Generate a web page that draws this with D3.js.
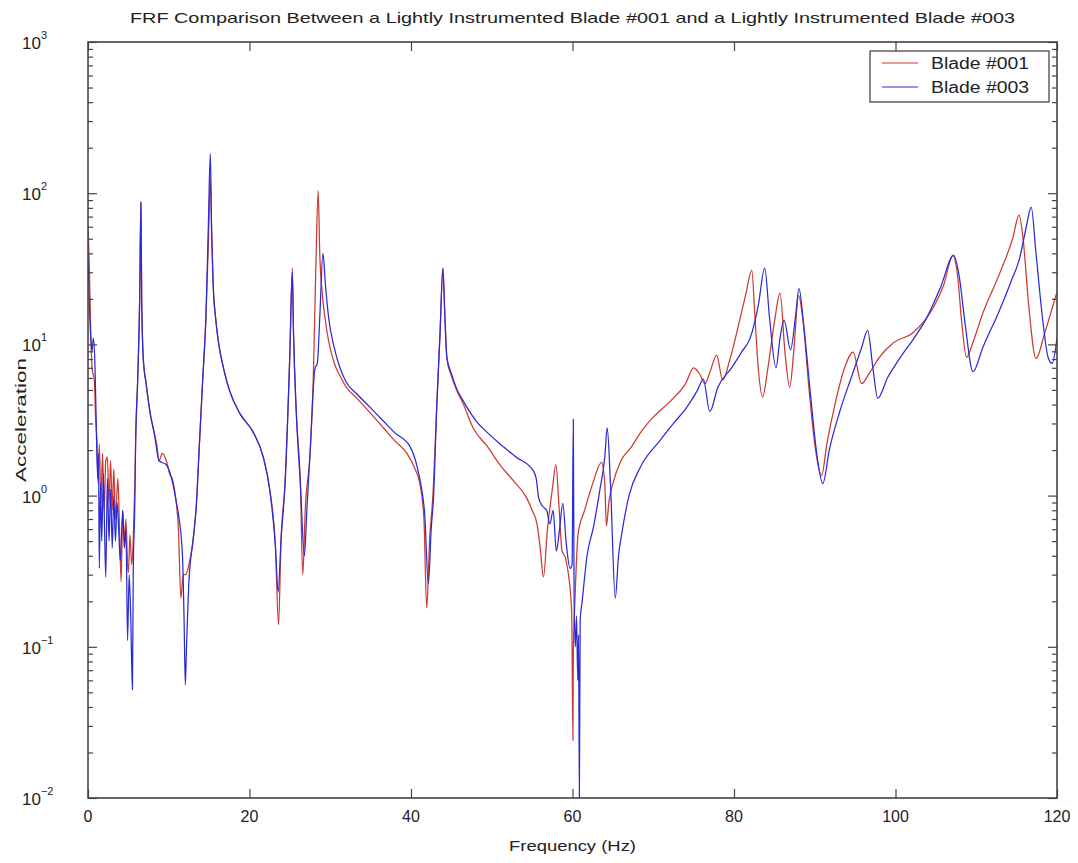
<!DOCTYPE html>
<html><head><meta charset="utf-8">
<script src="https://cdn.jsdelivr.net/npm/d3@7"></script>
<style>body{margin:0;background:#fff}svg{display:block}text{font-family:"Liberation Sans",Arial,sans-serif;fill:#222}</style>
</head><body>
<svg id="c" width="1078" height="863"></svg>
<script>
const title = "FRF Comparison Between a Lightly Instrumented Blade #001 and a Lightly Instrumented Blade #003";
const xLabel = "Frequency (Hz)";
const yLabel = "Acceleration";
const seriesNames = ["Blade #001", "Blade #003"];
const xTicks = [0, 20, 40, 60, 80, 100, 120];
const yDecades = [-2, -1, 0, 1, 2, 3];

const freq001 = [0,0.15,0.3,0.5,0.78,0.95,1.1,1.25,1.4,1.6,1.8,2.0,2.2,2.4,2.6,2.8,3.0,3.2,3.4,3.7,3.9,4.1,4.3,4.5,4.7,4.9,5.0,5.2,5.4,5.6,5.8,5.9,6.15,6.4,6.55,6.65,6.85,7.2,7.7,8.2,8.5,8.8,9.2,9.7,10.1,10.5,10.9,11.2,11.5,11.8,12.1,12.5,13.0,13.4,13.8,14.2,14.6,14.9,15.15,15.3,15.5,15.8,16.2,16.8,17.5,18.8,20.5,21.7,22.5,23.2,23.6,23.9,24.4,25.0,25.3,25.45,25.8,26.3,26.6,26.9,27.5,27.9,28.2,28.5,28.7,29.0,29.35,29.8,30.5,31.2,32.0,33.3,35.0,36.6,38.0,39.5,40.5,41.1,41.6,41.95,42.3,42.7,43.2,43.6,43.95,44.2,44.45,45.0,45.65,46.5,47.7,49.5,51.0,52.7,54.3,55.0,55.6,56.0,56.4,56.9,57.5,57.95,58.3,58.7,59.1,59.5,59.9,60.05,60.1,60.3,60.7,61.5,62.5,63.6,64.0,64.2,64.5,65.0,66.0,67.3,68.4,70.0,72.1,74.0,75.0,75.8,76.4,77.0,77.85,78.6,79.5,80.5,81.5,82.2,82.6,83.0,83.55,84.2,85.0,85.7,86.3,86.9,87.4,88.0,88.5,89.3,90.0,90.85,91.5,92.5,93.7,94.75,95.8,96.8,98.0,99.7,102.2,104.7,106.0,107.1,107.7,108.2,108.8,109.5,110.8,112.9,114.5,115.3,115.8,116.5,117.4,118.5,119.95];
const acc001 = [60,35,15,7,5.8,3.2,2.3,1.2,2.2,0.9,1.9,0.8,1.7,1.8,0.9,1.7,0.8,1.5,0.7,1.3,0.6,0.27,0.8,0.5,0.7,0.35,0.31,0.55,0.35,0.5,1.2,2.3,5.8,20,85,20,8,5.5,3.5,2.6,2.2,1.7,1.9,1.7,1.4,1.26,0.93,0.6,0.21,0.3,0.3,0.35,0.5,0.85,2.2,5.8,15,45,125,60,25,15,10,6.9,5,3.5,2.6,1.8,1.1,0.47,0.14,0.5,1.2,8.8,32,12,3.5,1.2,0.3,0.8,1.9,6,30,104,40,22,15,10.5,7.5,6.2,5.2,4.4,3.5,2.8,2.3,1.9,1.5,1.2,0.7,0.18,0.5,0.98,4,12,32,15,8,6.2,5,4,2.8,2.1,1.6,1.25,0.97,0.8,0.65,0.45,0.29,0.6,1.1,1.6,0.9,0.43,0.39,0.3,0.17,0.024,0.09,0.2,0.56,0.8,1.2,1.66,1.2,0.63,0.9,1.2,1.7,2.1,2.6,3.3,4.2,5.5,7,6.3,5.5,6.5,8.5,5.8,8,13,22,31,15,7,4.5,7,14,21.8,9,5.2,9,21,15,5,2.2,1.36,2.2,4,7,8.9,5.5,6.5,8.2,10.2,12,17.6,25,38.8,28,14,8.2,10,16,29.5,50,71.5,50,18,8.07,12,21.8];

const freq003 = [0,0.15,0.3,0.5,0.66,0.87,1.0,1.2,1.3,1.4,1.55,1.7,1.9,2.05,2.2,2.4,2.6,2.8,3.0,3.2,3.4,3.6,3.8,4.0,4.3,4.5,4.7,4.9,5.1,5.3,5.5,5.6,5.8,5.9,6.15,6.4,6.55,6.65,6.85,7.2,7.7,8.2,8.8,9.7,10.5,10.9,11.3,11.7,11.9,12.05,12.2,12.5,13.0,13.4,13.8,14.2,14.6,14.9,15.15,15.3,15.5,15.8,16.2,16.8,17.5,18.8,20.5,21.7,22.5,23.2,23.55,23.9,24.4,25.0,25.3,25.45,25.8,26.3,26.8,27.1,27.5,28.1,28.4,28.7,29.1,29.4,29.8,30.5,31.2,32.0,33.3,35.0,36.6,38.0,39.9,40.7,41.2,41.7,42.15,42.5,42.8,43.2,43.6,43.95,44.2,44.45,45.0,45.65,46.5,48.1,49.5,51.0,53.0,55.1,55.5,55.8,56.3,56.8,57.2,57.6,58.0,58.4,58.8,59.2,59.7,59.95,60.1,60.2,60.35,60.5,60.65,60.75,60.85,60.95,61.2,61.8,62.6,63.4,64.0,64.3,64.7,65.3,65.7,66.1,67.0,68.4,70.8,72.5,74.1,75.5,76.2,77.0,78.0,79.7,81.0,82.0,83.0,83.8,84.4,85.2,85.7,86.2,87.0,87.6,88.05,88.6,89.5,90.3,91.0,91.8,93.1,94.5,95.8,96.55,97.2,97.8,99.0,100.6,102.3,103.9,105.6,107.2,107.9,108.6,109.6,110.8,112.9,114.3,115.4,116.2,116.8,117.4,118.2,118.9,119.4,120];
const acc003 = [40,20,12,9,11,7,3.4,1.3,1.9,0.33,1.2,0.5,1.4,0.6,0.29,1.3,0.5,1.1,0.45,1.0,0.5,0.9,0.6,0.37,0.8,0.45,0.6,0.11,0.3,0.15,0.052,0.3,0.9,2.3,5.8,20,88,20,8,5.5,3.5,2.6,1.7,1.6,1.2,0.93,0.69,0.4,0.15,0.056,0.1,0.27,0.5,0.83,2.2,5.8,15,60,183,60,25,15,10,6.9,5,3.5,2.6,1.8,1.1,0.47,0.23,0.5,1.2,8.8,30,12,3.5,1.2,0.4,0.8,1.9,6.9,7.5,15,40,25,15,9.5,7,5.6,4.7,3.8,3.1,2.6,2.1,1.6,1.2,0.75,0.26,0.6,1.0,4,12,32,15,8.2,6.4,5.1,4.2,3.1,2.6,2.2,1.8,1.47,1.3,0.97,0.85,0.8,0.65,0.8,0.43,0.6,0.89,0.5,0.33,0.35,3.2,0.2,0.1,0.16,0.06,0.12,0.01,0.15,0.2,0.4,0.62,1.1,1.8,2.8,1.2,0.21,0.4,0.56,1.0,1.54,2.3,3.0,3.8,5.0,5.9,3.6,5.2,7,9,11,18,31.9,15,7,11,14.5,9.2,15,23.4,14,4.5,1.8,1.2,2,3.6,6,9.5,12.4,7,4.4,6,8.2,11,15.1,24,38.8,28,14,6.6,9.5,16.9,26,37.6,60,81,40,15,8.2,7.5,11];

const colors = ["#cc3a33", "#2b2bd6"];

const svg = d3.select("#c");
const W = 1078, H = 863;
const m = {l: 88, r: 1057, t: 42, b: 798};
const x = d3.scaleLinear().domain([0, 120]).range([m.l, m.r]);
const y = d3.scaleLog().domain([1e-2, 1e3]).range([m.b, m.t]);

svg.append("rect").attr("width", W).attr("height", H).attr("fill", "#fff");

svg.append("defs").append("clipPath").attr("id", "clip")
  .append("rect").attr("x", m.l).attr("y", m.t).attr("width", m.r - m.l).attr("height", m.b - m.t);

const series = [
  {name: seriesNames[0], f: freq001, v: acc001, c: colors[0]},
  {name: seriesNames[1], f: freq003, v: acc003, c: colors[1]}
];
const line = d3.line().x(d => x(d[0])).y(d => y(d[1])).curve(d3.curveMonotoneX);
const g = svg.append("g").attr("clip-path", "url(#clip)");
series.forEach(s => {
  const pts = s.f.map((f, i) => [f, s.v[i]]);
  g.append("path").datum(pts).attr("d", line).attr("fill", "none")
    .attr("stroke", s.c).attr("stroke-width", 1.25).attr("stroke-linejoin", "round");
});

// axes
const axCol = "#444";
const majorVals = yDecades.map(e => Math.pow(10, e));
const minorVals = [];
yDecades.slice(0, -1).forEach(e => { for (let k = 2; k <= 9; k++) minorVals.push(k * Math.pow(10, e)); });

function styleAxis(sel) {
  sel.select(".domain").remove();
  sel.selectAll("line").attr("stroke", axCol).attr("stroke-width", 1.2);
  sel.selectAll("text").remove();
}
svg.append("g").attr("transform", `translate(${m.l},0)`).call(d3.axisLeft(y).tickValues(majorVals).tickSizeInner(-9).tickSizeOuter(0)).call(styleAxis);
svg.append("g").attr("transform", `translate(${m.l},0)`).call(d3.axisLeft(y).tickValues(minorVals).tickSizeInner(-5).tickSizeOuter(0)).call(styleAxis);
svg.append("g").attr("transform", `translate(${m.r},0)`).call(d3.axisRight(y).tickValues(majorVals).tickSizeInner(-9).tickSizeOuter(0)).call(styleAxis);
svg.append("g").attr("transform", `translate(${m.r},0)`).call(d3.axisRight(y).tickValues(minorVals).tickSizeInner(-5).tickSizeOuter(0)).call(styleAxis);
svg.append("g").attr("transform", `translate(0,${m.b})`).call(d3.axisBottom(x).tickValues(xTicks).tickSizeInner(-9).tickSizeOuter(0)).call(styleAxis);
svg.append("g").attr("transform", `translate(0,${m.t})`).call(d3.axisTop(x).tickValues(xTicks).tickSizeInner(-9).tickSizeOuter(0)).call(styleAxis);

svg.append("rect").attr("x", m.l).attr("y", m.t).attr("width", m.r - m.l).attr("height", m.b - m.t)
  .attr("fill", "none").attr("stroke", axCol).attr("stroke-width", 1.6);

// tick labels
xTicks.forEach(t => {
  svg.append("text").attr("x", x(t)).attr("y", m.b + 24).attr("text-anchor", "middle")
    .attr("font-size", 16).text(t);
});
yDecades.forEach(e => {
  const tx = svg.append("text").attr("x", 22).attr("y", y(Math.pow(10, e)) + 7).attr("font-size", 17);
  tx.append("tspan").text("10");
  tx.append("tspan").attr("dy", -10).attr("font-size", 11).text(e < 0 ? "\u2212" + (-e) : e);
});

// title and axis labels
svg.append("text").attr("x", (m.l + m.r) / 2).attr("y", 23).attr("text-anchor", "middle")
  .attr("font-size", 15).attr("textLength", 885).attr("lengthAdjust", "spacingAndGlyphs").text(title);
svg.append("text").attr("x", (m.l + m.r) / 2).attr("y", 851).attr("text-anchor", "middle")
  .attr("font-size", 15).attr("textLength", 127).attr("lengthAdjust", "spacingAndGlyphs").text(xLabel);
svg.append("text").attr("transform", `translate(26,${(m.t + m.b) / 2}) rotate(-90)`).attr("text-anchor", "middle")
  .attr("font-size", 15).attr("textLength", 124).attr("lengthAdjust", "spacingAndGlyphs").text(yLabel);

// legend
const lg = svg.append("g");
lg.append("rect").attr("x", 870).attr("y", 51).attr("width", 179).attr("height", 51)
  .attr("fill", "#fff").attr("stroke", "#555").attr("stroke-width", 1.4);
series.forEach((s, i) => {
  const yy = 63 + i * 24;
  lg.append("line").attr("x1", 882).attr("x2", 918).attr("y1", yy).attr("y2", yy)
    .attr("stroke", s.c).attr("stroke-width", 1.2);
  lg.append("text").attr("x", 931).attr("y", yy + 6).attr("font-size", 16)
    .attr("textLength", 98).attr("lengthAdjust", "spacingAndGlyphs").text(s.name);
});
</script>
</body></html>
